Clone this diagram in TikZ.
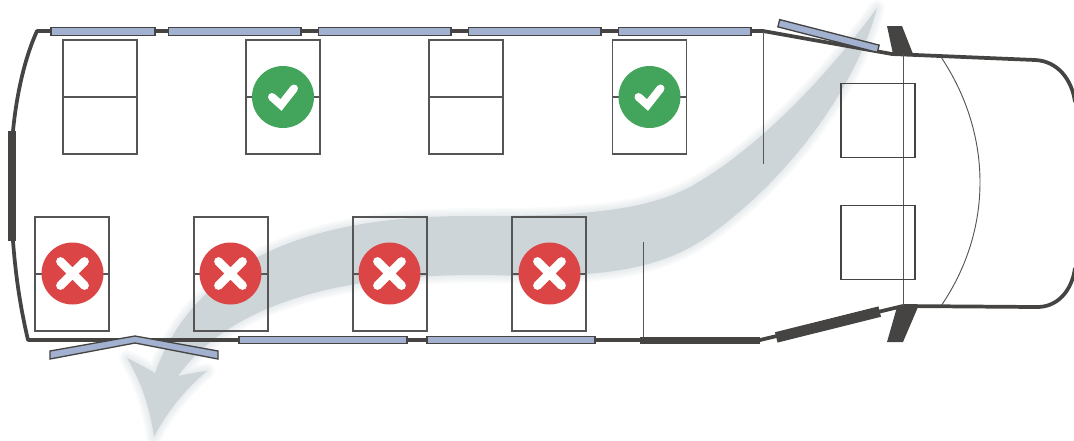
\documentclass[tikz,border=0pt]{standalone}
\usetikzlibrary{positioning}
\definecolor{hullgrey}{HTML}{454442}
\definecolor{linegrey}{HTML}{555555}
\definecolor{glassblue}{HTML}{A2B1D0}
\definecolor{flowgrey}{HTML}{CDD5D9}
\definecolor{okgreen}{HTML}{43A55C}
\definecolor{nored}{HTML}{DB4545}
\newcommand{\flowpath}{(877,8) .. controls (835,65) and (765,145) .. (690,187)
  .. controls (640,213) and (570,216) .. (470,216)
  .. controls (360,216) and (205,235) .. (155,373)
  .. controls (145,367) and (135,362) .. (127,358)
  .. controls (143,385) and (150,410) .. (154,437)
  .. controls (168,410) and (185,390) .. (207,371)
  .. controls (197,372) and (187,374) .. (178,376)
  .. controls (240,290) and (380,270) .. (520,276)
  .. controls (600,276) and (660,271) .. (710,235)
  .. controls (800,170) and (860,75) .. (877,8) -- cycle}
\begin{document}
\begin{tikzpicture}[
    x=0.75pt, y=-0.75pt,
    seat/.style={rectangle, draw=linegrey, line width=1pt, minimum width=55.5pt, minimum height=85.5pt, inner sep=0pt},
    driverseat/.style={rectangle, draw=hullgrey, line width=0.9pt, minimum width=55.5pt, minimum height=56pt, inner sep=0pt},
    glass/.style={rectangle, draw=hullgrey, fill=glassblue, line width=1pt, minimum height=5.6pt, inner sep=0pt},
    darkglass/.style={rectangle, fill=hullgrey, inner sep=0pt},
    hull/.style={draw=hullgrey, line width=2.8pt, line join=round},
    thinline/.style={draw=linegrey, line width=0.7pt},
    seatline/.style={draw=linegrey, line width=0.9pt},
    okmark/.style={circle, fill=okgreen, minimum size=46.5pt, inner sep=0pt,
      path picture={\draw[white, line width=6pt, line cap=round, line join=miter]
        (path picture bounding box.center) ++(-11,0) -- ++(9,8) -- ++(13,-16.5);}},
    nomark/.style={circle, fill=nored, minimum size=46.5pt, inner sep=0pt,
      path picture={\draw[white, line width=6.6pt, line cap=round]
        (path picture bounding box.center) ++(-12,-12) -- ++(24,24) ++(0,-24) -- ++(-24,24);}}
]
\useasboundingbox (0,0) rectangle (1074,440);

% Flow of passengers
\foreach \w in {12,10,8,6,4,2}
  \draw[draw=flowgrey, line width=\w pt, opacity=0.09, line join=round] \flowpath;
\fill[flowgrey] \flowpath;

% Hull points
\coordinate (rearleft) at (37,31);
\coordinate (rearmid) at (13,131);
\coordinate (rearmidb) at (13,241);
\coordinate (rearbot) at (28,340);
\coordinate (topbend) at (763,31);
\coordinate (topfront) at (892,54);
\coordinate (nosetop) at (1035,60);
\coordinate (noseend) at (1075,102);
\coordinate (botbend) at (760,340);
\coordinate (botfront) at (903,306);
\coordinate (nosebot) at (1035,307);
\coordinate (noseendb) at (1075,268);

% Hull
\draw[hull] (rearmid) .. controls (17,90) and (26,55) .. (rearleft) -- (topbend) -- (topfront) -- (nosetop) .. controls (1058,61) and (1072,80) .. (noseend);
\draw[hull] (rearmidb) .. controls (16,280) and (21,310) .. (rearbot) -- (botbend) -- (botfront) -- (nosebot) .. controls (1058,308) and (1072,290) .. (noseendb);

% Partitions and windscreen
\coordinate (parttop) at (763,164);
\coordinate (partbot) at (643,242);
\coordinate (partbotend) at (643,340);
\coordinate (cabtop) at (903,54);
\coordinate (screentop) at (941,57);
\coordinate (screenbot) at (941,306);
\draw[thinline] (topbend) -- (parttop);
\draw[thinline] (partbot) -- (partbotend);
\draw[thinline] (cabtop) -- (botfront);
\draw[thinline] (screentop) .. controls (993,135) and (993,230) .. (screenbot);

% Seats, top row
\node[seat] (seat1) at (100,97) {};
\node[seat] (seat2) at (283,97) {};
\node[seat] (seat3) at (466,97) {};
\node[seat] (seat4) at (649.5,97) {};

% Seats, bottom row
\node[seat] (seat5) at (72,274) {};
\node[seat] (seat6) at (231,274) {};
\node[seat] (seat7) at (390,274) {};
\node[seat] (seat8) at (549,274) {};

% Seat dividers
\foreach \s in {1,...,8}
  \draw[seatline] (seat\s.west) -- (seat\s.east);

% Driver area
\node[driverseat] (cab1) at (878,120.5) {};
\node[driverseat] (cab2) at (878,242.5) {};

% Marks
\node[okmark] (mark2) at (seat2) {};
\node[okmark] (mark4) at (seat4) {};
\node[nomark] (mark5) at (72.5,273.5) {};
\node[nomark] (mark6) at (230.5,273.5) {};
\node[nomark] (mark7) at (389.5,273.5) {};
\node[nomark] (mark8) at (549.5,273.5) {};

% Top windows
\node[glass, minimum width=78pt, minimum height=6.2pt] (win1) at (103,31.5) {};
\node[glass, minimum width=99.5pt] (win2) at (234.5,31.5) {};
\node[glass, minimum width=99.5pt] (win3) at (384.5,31.5) {};
\node[glass, minimum width=99.5pt] (win4) at (534.5,31.5) {};
\node[glass, minimum width=99.5pt] (win5) at (684.5,31.5) {};
\node[glass, minimum width=77pt, rotate=-14.4] (door1) at (828.5,36) {};

% Bottom windows
\node[glass, minimum width=126pt] (win6) at (323,340) {};
\node[glass, minimum width=126pt] (win7) at (511,340) {};
\node[darkglass, minimum width=90pt, minimum height=5.4pt] (win8) at (700,340.5) {};
\node[darkglass, minimum width=80pt, minimum height=8pt, rotate=14] (win9) at (828,324.5) {};
\node[darkglass, minimum width=6pt, minimum height=82.5pt] (rearwin) at (12,186) {};

% Rear door
\filldraw[draw=hullgrey, fill=glassblue, line width=1pt, line join=miter] (50,351) -- (135,336) -- (218,351) -- (218,359) -- (135,343) -- (50,359) -- cycle;

% Door pillars
\fill[hullgrey] (887,26) -- (902,26) -- (913,54) -- (893,54) -- cycle;
\fill[hullgrey] (897,307) -- (918,307) -- (903,342) -- (887,342) -- cycle;
\end{tikzpicture}
\end{document}
